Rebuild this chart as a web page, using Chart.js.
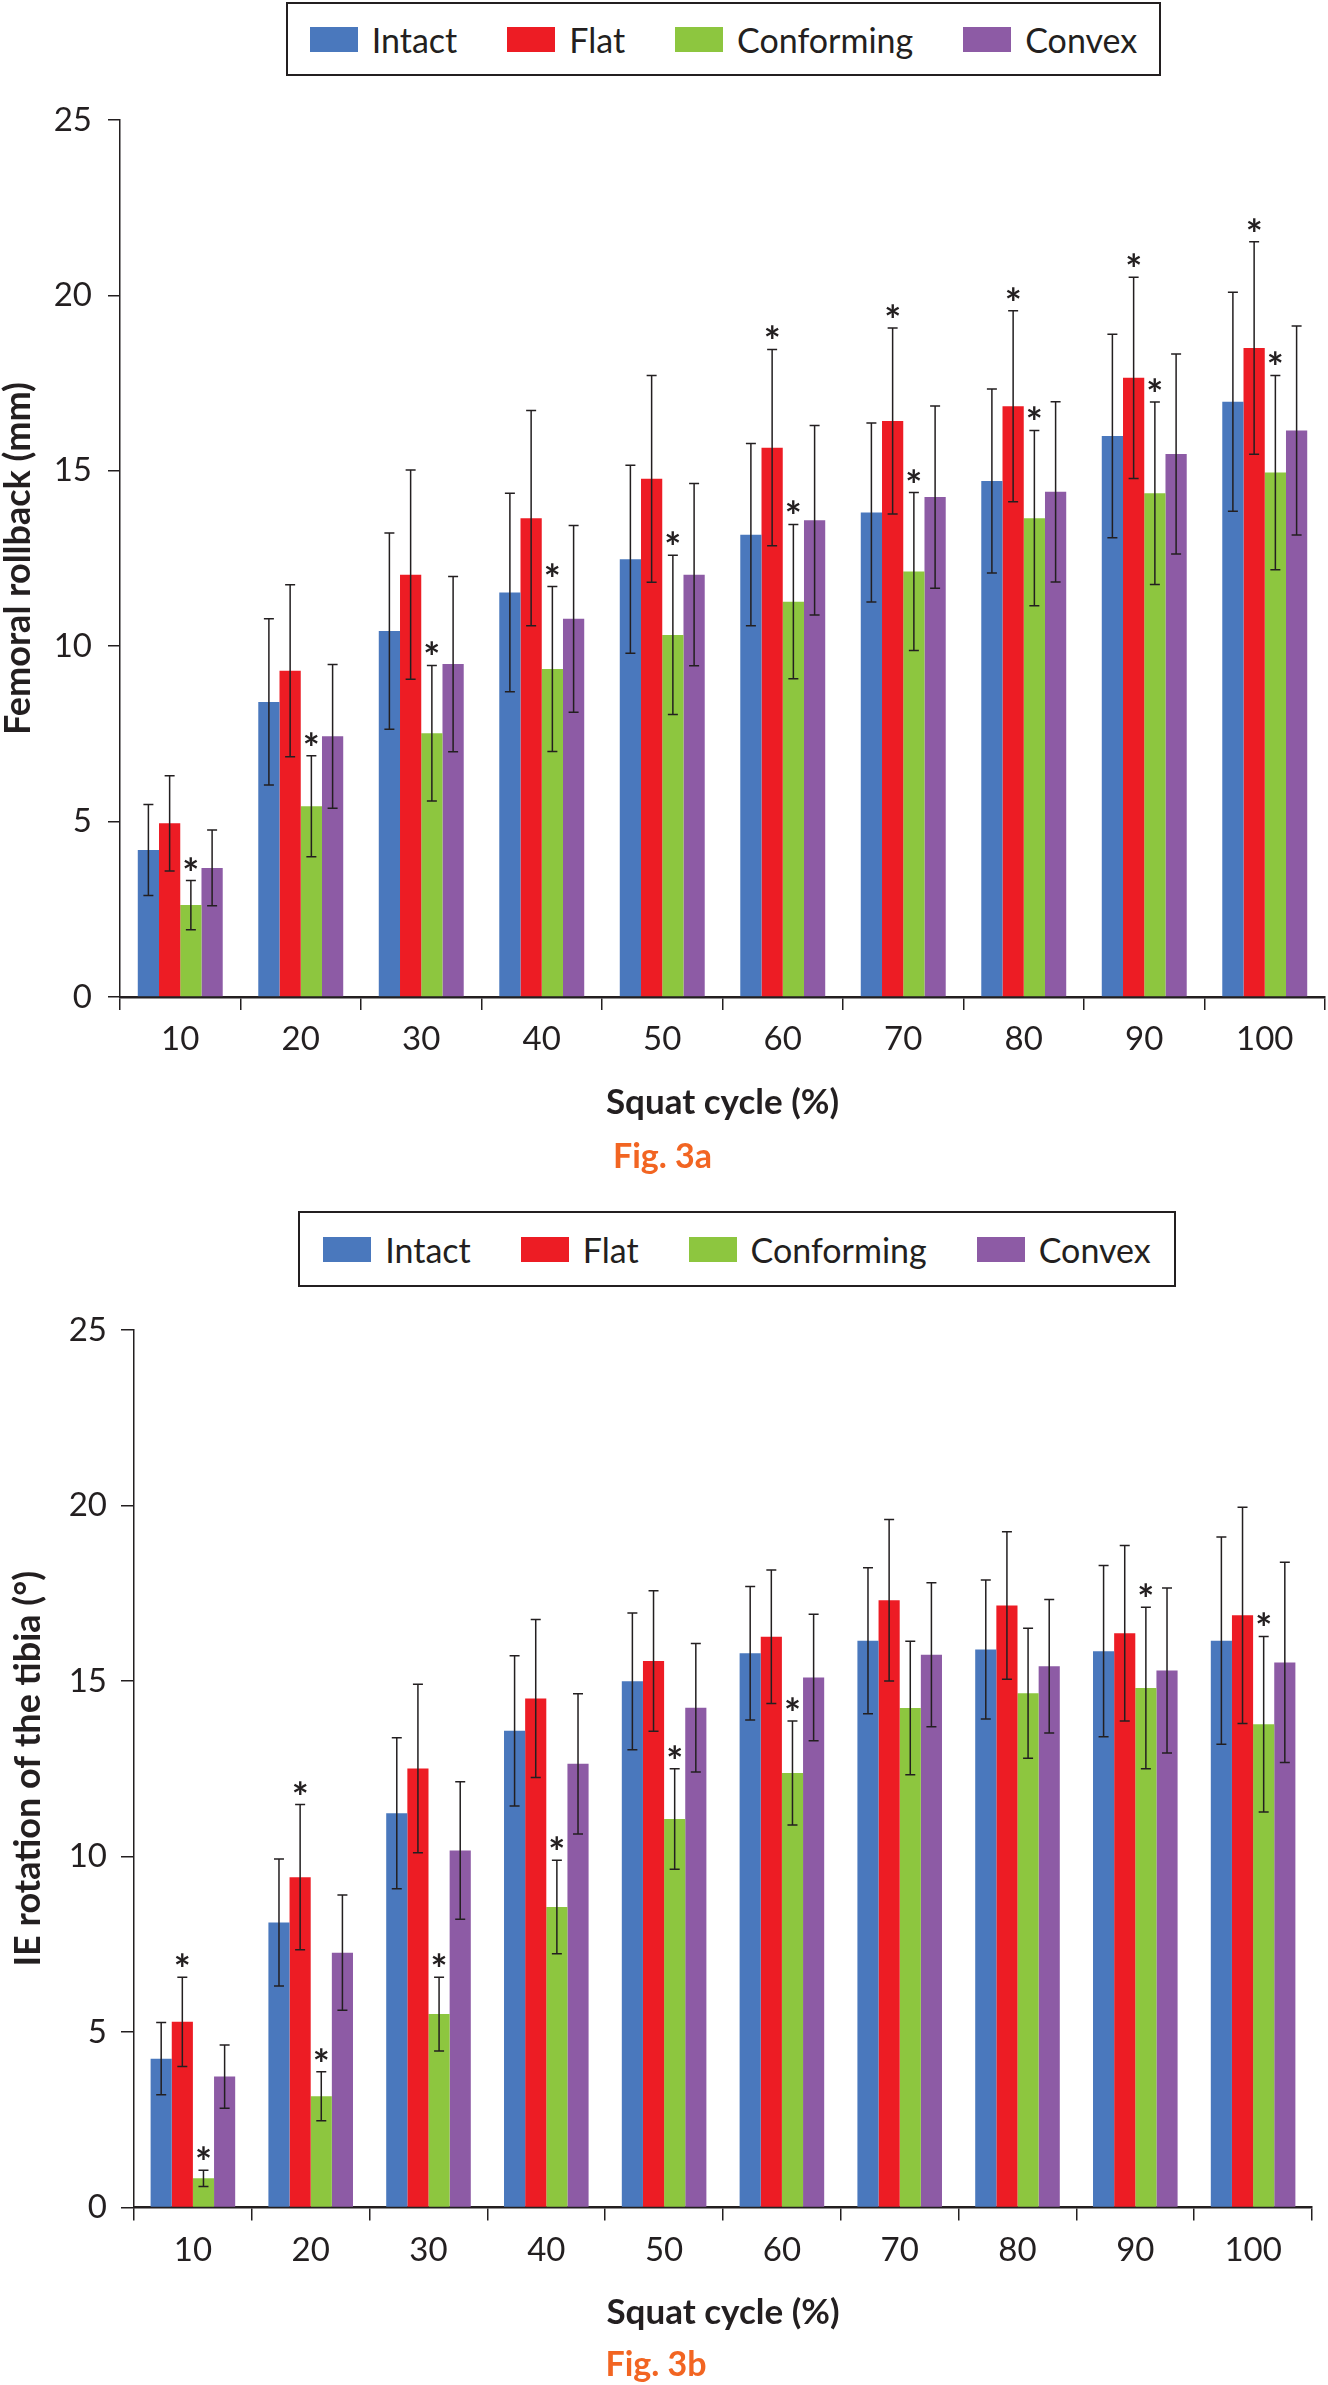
<!DOCTYPE html>
<html>
<head>
<meta charset="utf-8">
<script src="https://cdn.jsdelivr.net/npm/chart.js@4.4.1/dist/chart.umd.min.js"></script>
<style>
  body { margin: 0; background: #fff; font-family: Lato, "Open Sans", sans-serif; color: #231f20; }
  #page { position: relative; width: 1328px; height: 2385px; overflow: hidden; }
  canvas { position: absolute; left: 0; }
  .legend { position: absolute; box-sizing: border-box; border: 2px solid #231f20; display: flex;
            justify-content: center; align-items: center; font-size: 34px; background: #fff; }
  .legend .item { display: flex; align-items: center; margin: 0 25px; }
  .legend i { display: inline-block; width: 48px; height: 25px; margin-right: 14px; }
</style>
</head>
<body>
<div id="page">
  <canvas id="chartA" width="1328" height="1190" style="top:0"></canvas>
  <canvas id="chartB" width="1328" height="1195" style="top:1190px"></canvas>
  <div class="legend" id="legendA" style="left:286px; top:2px; width:875px; height:74px;"></div>
  <div class="legend" id="legendB" style="left:298px; top:1211px; width:878px; height:76px;"></div>
</div>
<script>
const categories = [10, 20, 30, 40, 50, 60, 70, 80, 90, 100];
const seriesNames = ["Intact", "Flat", "Conforming", "Convex"];
const seriesColors = ["#4a78bd", "#ed1c24", "#8dc63f", "#8d5ba5"];

// Fig. 3a - femoral rollback (mm), mean and SD
const rollIntact = [4.19, 8.41, 10.43, 11.53, 12.48, 13.18, 13.81, 14.71, 15.99, 16.97];
const rollFlat = [4.95, 9.30, 12.04, 13.65, 14.77, 15.66, 16.42, 16.84, 17.65, 18.50];
const rollConforming = [2.62, 5.44, 7.52, 9.35, 10.32, 11.27, 12.13, 13.65, 14.36, 14.95];
const rollConvex = [3.68, 7.43, 9.49, 10.78, 12.04, 13.59, 14.25, 14.40, 15.48, 16.15];
const rollIntactSd = [1.30, 2.37, 2.80, 2.83, 2.68, 2.60, 2.55, 2.62, 2.90, 3.12];
const rollFlatSd = [1.36, 2.45, 2.98, 3.07, 2.95, 2.80, 2.65, 2.72, 2.87, 3.03];
const rollConformingSd = [0.70, 1.44, 1.93, 2.35, 2.27, 2.20, 2.25, 2.50, 2.60, 2.77];
const rollConvexSd = [1.08, 2.05, 2.50, 2.66, 2.60, 2.70, 2.60, 2.57, 2.85, 2.98];
// categories marked with * (significant), per series
const rollStars = [[], [60, 70, 80, 90, 100], [10, 20, 30, 40, 50, 60, 70, 80, 90, 100], []];

// Fig. 3b - IE rotation of the tibia (deg), mean and SD
const ieIntact = [4.24, 8.12, 11.23, 13.58, 14.99, 15.79, 16.15, 15.90, 15.85, 16.15];
const ieFlat = [5.29, 9.41, 12.51, 14.50, 15.57, 16.26, 17.30, 17.15, 16.36, 16.87];
const ieConforming = [0.83, 3.17, 5.51, 8.56, 11.07, 12.38, 14.23, 14.65, 14.80, 13.77];
const ieConvex = [3.73, 7.26, 10.17, 12.64, 14.24, 15.10, 15.75, 15.42, 15.30, 15.53];
const ieIntactSd = [1.03, 1.81, 2.15, 2.14, 1.95, 1.90, 2.08, 1.98, 2.44, 2.95];
const ieFlatSd = [1.27, 2.07, 2.40, 2.25, 2.00, 1.90, 2.30, 2.10, 2.50, 3.08];
const ieConformingSd = [0.23, 0.70, 1.05, 1.33, 1.43, 1.48, 1.90, 1.85, 2.30, 2.50];
const ieConvexSd = [0.90, 1.64, 1.96, 2.00, 1.83, 1.80, 2.05, 1.90, 2.35, 2.85];
const ieStars = [[], [10, 20], [10, 20, 30, 40, 50, 60, 90, 100], []];

const ink = "#231f20";
Chart.defaults.font.family = "Lato, 'Open Sans', sans-serif";
Chart.defaults.color = ink;

// error bars and significance stars on top of the bars
const errorBars = {
    id: "errorBars",
    afterDatasetsDraw(chart) {
        const ctx = chart.ctx;
        const yScale = chart.scales.y;
        ctx.save();
        ctx.strokeStyle = ink;
        ctx.fillStyle = ink;
        ctx.lineWidth = 1.5;
        ctx.font = "bold 40px Lato, sans-serif";
        ctx.textAlign = "center";
        ctx.textBaseline = "alphabetic";
        const m = ctx.measureText("*");
        const starShift = (m.actualBoundingBoxAscent - m.actualBoundingBoxDescent) / 2;
        chart.data.datasets.forEach((ds, i) => {
            chart.getDatasetMeta(i).data.forEach((bar, j) => {
                const top = yScale.getPixelForValue(ds.data[j] + ds.sd[j]);
                const bottom = yScale.getPixelForValue(ds.data[j] - ds.sd[j]);
                ctx.beginPath();
                ctx.moveTo(bar.x, top); ctx.lineTo(bar.x, bottom);
                ctx.moveTo(bar.x - 5, top); ctx.lineTo(bar.x + 5, top);
                ctx.moveTo(bar.x - 5, bottom); ctx.lineTo(bar.x + 5, bottom);
                ctx.stroke();
                if (ds.stars.includes(chart.data.labels[j])) {
                    ctx.fillText("*", bar.x, top - 17 + starShift);
                }
            });
        });
        ctx.restore();
    }
};

function buildLegend(id) {
    const box = document.getElementById(id);
    seriesNames.forEach((name, i) => {
        const item = document.createElement("span");
        item.className = "item";
        item.innerHTML = '<i style="background:' + seriesColors[i] + '"></i>' + name;
        box.appendChild(item);
    });
}

function drawChart(canvasId, means, sds, stars, yTitle, figTitle, g) {
    new Chart(document.getElementById(canvasId), {
        type: "bar",
        data: {
            labels: categories,
            datasets: seriesNames.map((name, i) => ({
                label: name,
                data: means[i],
                sd: sds[i],
                stars: stars[i],
                backgroundColor: seriesColors[i],
                borderWidth: 0,
                categoryPercentage: g.groupWidth,
                barPercentage: 1.0
            }))
        },
        options: {
            responsive: false,
            animation: false,
            layout: { padding: { top: g.top, right: g.right, bottom: g.bottom, left: 0 } },
            plugins: {
                legend: { display: false },
                tooltip: { enabled: false },
                title: {
                    display: true,
                    position: "bottom",
                    text: figTitle,
                    color: "#f26522",
                    font: { size: 34, weight: "bold", lineHeight: 1.2 },
                    padding: 0
                }
            },
            scales: {
                x: {
                    ticks: { padding: 10, color: ink, font: { size: 33 } },
                    grid: { offset: true, drawOnChartArea: false, drawTicks: true, tickLength: 13, color: ink, lineWidth: 1.5 },
                    border: { display: true, color: ink, width: 2.5 },
                    title: {
                        display: true,
                        text: "Squat cycle (%)",
                        color: ink,
                        font: { size: 35, weight: "bold", lineHeight: 1.2 },
                        padding: { top: 0, bottom: g.xTitlePad }
                    },
                    afterFit(scale) { scale.height = g.xHeight; }
                },
                y: {
                    min: 0,
                    max: 25,
                    ticks: { stepSize: 5, padding: g.tickPad, color: ink, font: { size: 33 } },
                    grid: { drawOnChartArea: false, drawTicks: true, tickLength: g.tickLen, color: ink, lineWidth: 1.5 },
                    border: { display: true, color: ink, width: 1.5 },
                    title: {
                        display: true,
                        text: yTitle,
                        color: ink,
                        font: { size: 36, weight: "bold", lineHeight: 1 },
                        padding: { top: g.yTitlePad, bottom: 0 }
                    },
                    afterFit(scale) { scale.width = g.yWidth; }
                }
            }
        },
        plugins: [errorBars]
    });
}

buildLegend("legendA");
buildLegend("legendB");

drawChart("chartA",
    [rollIntact, rollFlat, rollConforming, rollConvex],
    [rollIntactSd, rollFlatSd, rollConformingSd, rollConvexSd],
    rollStars, "Femoral rollback (mm)", "Fig. 3a",
    { top: 120, right: 3, bottom: 12.6, xHeight: 139.6, xTitlePad: 12.6, yWidth: 120, tickLen: 12, tickPad: 16, yTitlePad: 0, groupWidth: 0.705 });

drawChart("chartB",
    [ieIntact, ieFlat, ieConforming, ieConvex],
    [ieIntactSd, ieFlatSd, ieConformingSd, ieConvexSd],
    ieStars, "IE rotation of the tibia (°)", "Fig. 3b",
    { top: 140, right: 16, bottom: 0, xHeight: 136.7, xTitlePad: 10.2, yWidth: 134, tickLen: 13, tickPad: 14, yTitlePad: 10, groupWidth: 0.718 });
</script>
</body>
</html>
